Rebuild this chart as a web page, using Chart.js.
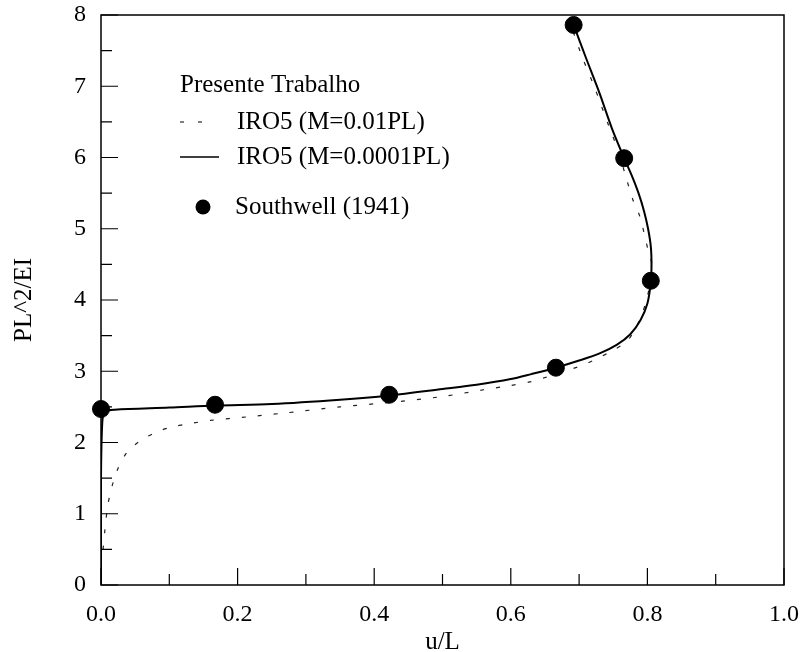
<!DOCTYPE html>
<html lang="pt-br">
<head>
    <meta charset="UTF-8">
    <title>Southwell</title>
    <script src="https://cdn.jsdelivr.net/npm/chart.js"></script>
    <style>
        html, body { margin: 0; padding: 0; background: #fff; }
        #wrap { width: 803px; height: 652px; }
    </style>
</head>
<body>
    <div id="wrap"><canvas id="grafico"></canvas></div>

    <script>
        // pontos de referencia (Southwell 1941)
        const uSouthwell = [0.0, 0.167, 0.422, 0.666, 0.805, 0.766, 0.692];
        const pSouthwell = [2.47, 2.53, 2.67, 3.05, 4.27, 5.99, 7.86];

        // IRO5 M=0.0001PL (linha cheia)
        const uSolida = [0.0, 0.0, 0.002, 0.006, 0.02, 0.1, 0.167, 0.25, 0.35, 0.422, 0.5, 0.55, 0.6, 0.63, 0.666,
            0.7, 0.73, 0.755, 0.775, 0.79, 0.8, 0.805, 0.806, 0.805, 0.801, 0.795, 0.787, 0.777, 0.766,
            0.748, 0.73, 0.71, 0.692];
        const pSolida = [0.0, 1.5, 2.3, 2.43, 2.46, 2.49, 2.52, 2.54, 2.6, 2.66, 2.75, 2.81, 2.89, 2.96, 3.05,
            3.15, 3.25, 3.37, 3.52, 3.72, 3.95, 4.25, 4.5, 4.75, 5.0, 5.25, 5.5, 5.75, 5.99,
            6.41, 6.9, 7.4, 7.86];

        // IRO5 M=0.01PL (tracejada)
        const uTracejada = [0.003, 0.006, 0.01, 0.016, 0.025, 0.038, 0.057, 0.082, 0.105, 0.133, 0.16, 0.214, 0.265,
            0.35, 0.42, 0.496, 0.56, 0.6, 0.628, 0.653, 0.698, 0.723, 0.745, 0.769, 0.779, 0.79, 0.8, 0.807,
            0.801, 0.789, 0.779, 0.77, 0.757, 0.742, 0.722, 0.705, 0.69];
        const pTracejada = [0.5, 0.8, 1.12, 1.38, 1.64, 1.86, 2.02, 2.15, 2.22, 2.27, 2.31, 2.36, 2.41,
            2.5, 2.56, 2.64, 2.74, 2.8, 2.85, 2.92, 3.06, 3.16, 3.27, 3.41, 3.54, 3.75, 4.05, 4.47,
            4.7, 5.17, 5.4, 5.68, 6.1, 6.48, 7.0, 7.4, 7.8];

        const xTicks = [0, 0.2, 0.4, 0.6, 0.8, 1.0];
        const yTicks = [0, 1, 2, 3, 4, 5, 6, 7, 8];

        const pares = (xs, ys) => xs.map((x, i) => ({ x: x, y: ys[i] }));
        const fonte = 'Liberation Serif';

        // caixa, marcas internas e legenda
        const moldura = {
            id: 'moldura',
            afterDraw(chart) {
                const { ctx, chartArea: a, scales: { x, y } } = chart;
                ctx.save();
                ctx.strokeStyle = '#000';
                ctx.lineWidth = 1.5;
                ctx.strokeRect(a.left, a.top, a.right - a.left, a.bottom - a.top);

                ctx.lineWidth = 1.2;
                ctx.beginPath();
                for (let i = 0; i <= 10; i++) {
                    const px = x.getPixelForValue(i / 10);
                    const len = i % 2 === 0 ? 17 : 11;
                    ctx.moveTo(px, a.bottom);
                    ctx.lineTo(px, a.bottom - len);
                }
                for (let i = 0; i <= 16; i++) {
                    const py = y.getPixelForValue(i / 2);
                    const len = i % 2 === 0 ? 17 : 11;
                    ctx.moveTo(a.left, py);
                    ctx.lineTo(a.left + len, py);
                }
                ctx.stroke();

                // legenda
                ctx.fillStyle = '#000';
                ctx.font = '25px "' + fonte + '"';
                ctx.textBaseline = 'middle';
                ctx.fillText('Presente Trabalho', 180, 85);
                ctx.fillText('IRO5 (M=0.01PL)', 237, 122);
                ctx.fillText('IRO5 (M=0.0001PL)', 237, 157);
                ctx.fillText('Southwell (1941)', 235, 207);

                ctx.lineWidth = 1.2;
                ctx.beginPath();
                ctx.moveTo(180, 122); ctx.lineTo(184, 122);
                ctx.moveTo(198, 122); ctx.lineTo(202, 122);
                ctx.stroke();
                ctx.lineWidth = 1.5;
                ctx.beginPath();
                ctx.moveTo(180, 157); ctx.lineTo(219, 157);
                ctx.stroke();
                ctx.beginPath();
                ctx.arc(203, 207, 7.5, 0, Math.PI * 2);
                ctx.fill();
                ctx.restore();
            }
        };

        const ctx = document.getElementById('grafico').getContext('2d');
        const grafico = new Chart(ctx, {
            type: 'scatter',
            data: {
                datasets: [
                    {
                        label: 'Southwell (1941)',
                        data: pares(uSouthwell, pSouthwell),
                        backgroundColor: '#000',
                        borderColor: '#000',
                        pointRadius: 8.5,
                        clip: false,
                    },
                    {
                        label: 'IRO5 (M=0.0001PL)',
                        data: pares(uSolida, pSolida),
                        showLine: true,
                        borderColor: '#000',
                        borderWidth: 2,
                        pointRadius: 0,
                        tension: 0.3,
                    },
                    {
                        label: 'IRO5 (M=0.01PL)',
                        data: pares(uTracejada, pTracejada),
                        showLine: true,
                        borderColor: '#222',
                        borderWidth: 1.2,
                        borderDash: [4, 12],
                        pointRadius: 0,
                        tension: 0.3,
                    },
                ],
            },
            options: {
                responsive: true,
                maintainAspectRatio: false,
                animation: false,
                layout: { padding: { top: 15, right: 19, left: 0, bottom: 0 } },
                plugins: { legend: { display: false }, tooltip: { enabled: false } },
                scales: {
                    x: {
                        type: 'linear',
                        min: 0,
                        max: 1,
                        afterFit: s => { s.height = 67; s.paddingLeft = 0; s.paddingRight = 0; },
                        afterBuildTicks: s => { s.ticks = xTicks.map(v => ({ value: v })); },
                        grid: { display: false, drawTicks: false },
                        border: { display: false },
                        ticks: {
                            color: '#000',
                            padding: 15,
                            font: { family: fonte, size: 24 },
                            callback: v => v.toFixed(1),
                        },
                        title: {
                            display: true,
                            text: 'u/L',
                            color: '#000',
                            font: { family: fonte, size: 25, lineHeight: 1 },
                            padding: { top: 0, bottom: -3 },
                        },
                    },
                    y: {
                        type: 'linear',
                        min: 0,
                        max: 8,
                        afterFit: s => { s.width = 101; s.paddingTop = 0; s.paddingBottom = 0; },
                        afterBuildTicks: s => { s.ticks = yTicks.map(v => ({ value: v })); },
                        grid: { display: false, drawTicks: false },
                        border: { display: false },
                        ticks: {
                            color: '#000',
                            padding: 15,
                            font: { family: fonte, size: 24 },
                        },
                        title: {
                            display: true,
                            text: 'PL^2/EI',
                            color: '#000',
                            font: { family: fonte, size: 25, lineHeight: 1 },
                            padding: { top: 12, bottom: 0 },
                        },
                    },
                },
            },
            plugins: [moldura],
        });
    </script>
</body>
</html>
